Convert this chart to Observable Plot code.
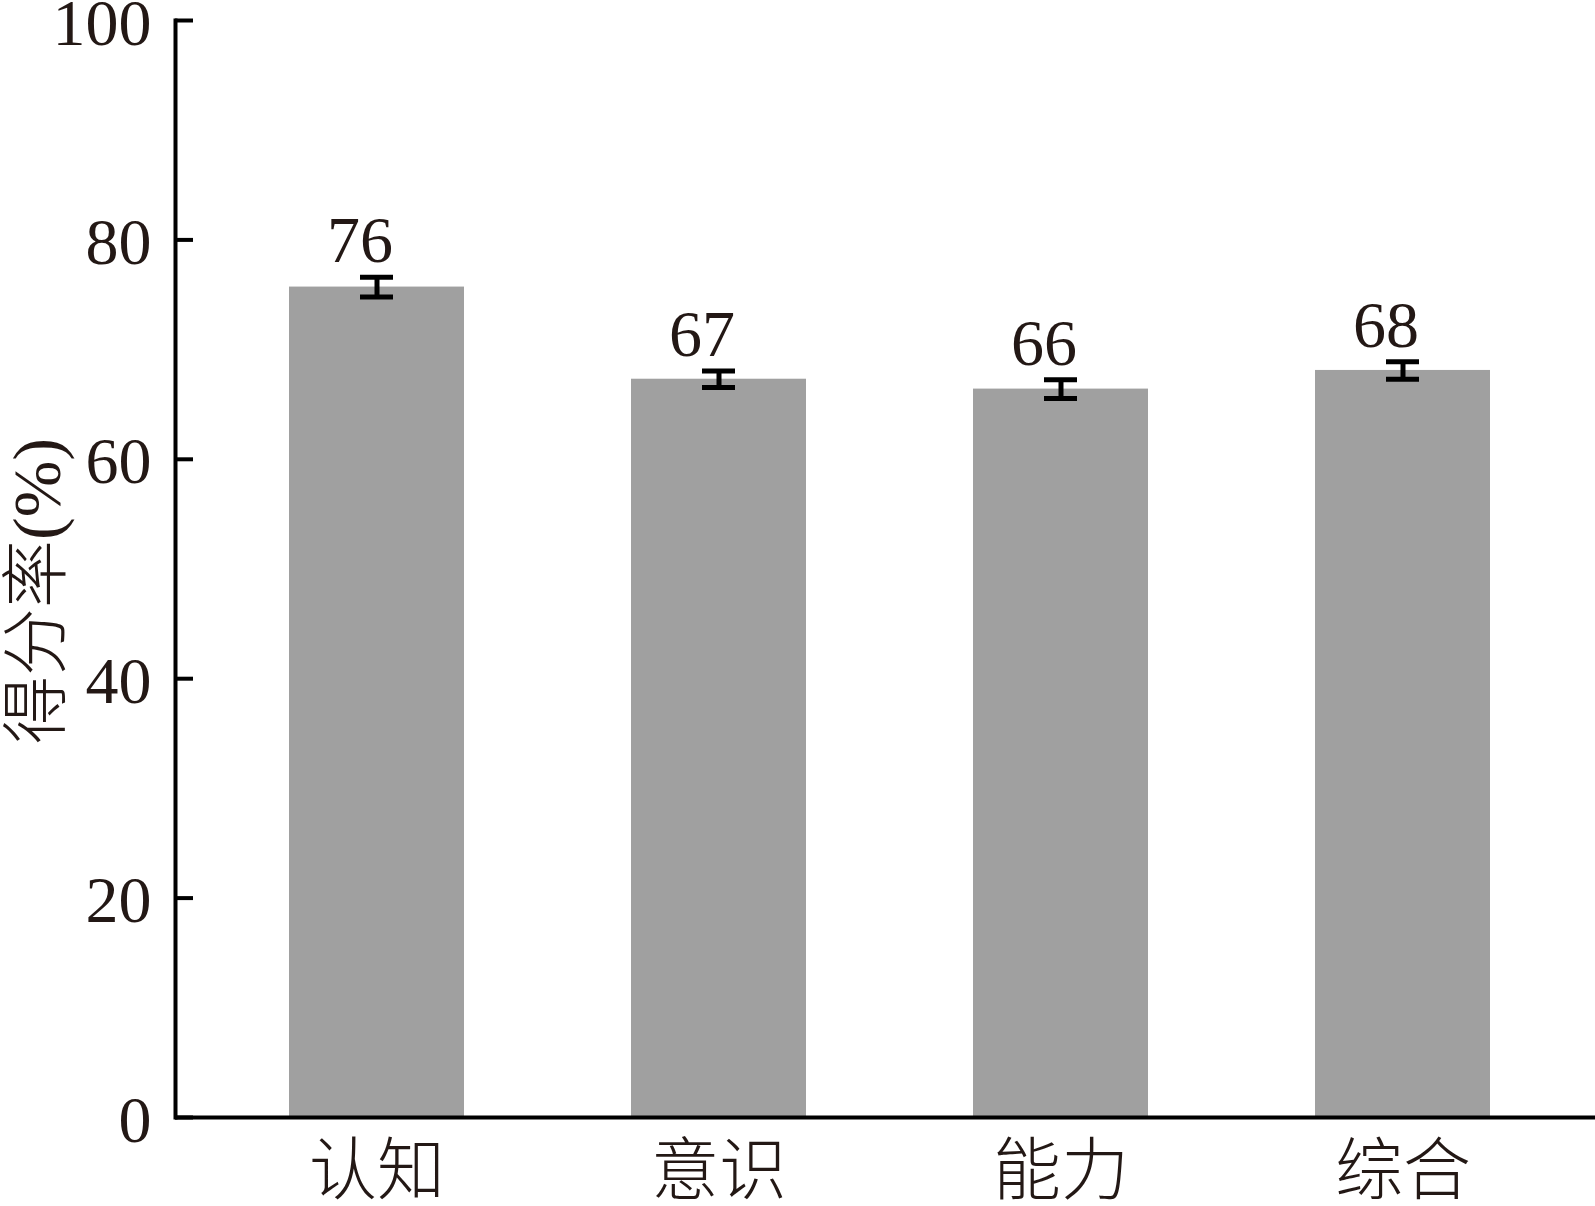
<!DOCTYPE html>
<html>
<head>
<meta charset="utf-8">
<script src="https://cdn.jsdelivr.net/npm/d3@7"></script>
<script src="https://cdn.jsdelivr.net/npm/@observablehq/plot@0.6"></script>
<style>
  html, body { margin: 0; padding: 0; background: #fff; }
  svg { overflow: visible; display: block; }
</style>
</head>
<body>
<div id="chart"></div>
<script>
const categories = ["认知", "意识", "能力", "综合"];
const values = [75.7, 67.3, 66.4, 68.1];
const errors = [0.9, 0.75, 0.85, 0.8];
const valueLabels = ["76", "67", "66", "68"];
const yTicks = [0, 20, 40, 60, 80, 100];
const yTitle = "得分率(%)";

const data = categories.map((c, i) => ({
  cat: c, v: values[i], lo: values[i] - errors[i], hi: values[i] + errors[i], label: valueLabels[i]
}));

const serif = "'Liberation Serif', 'Times New Roman', 'Noto Sans CJK SC', serif";
const cjk = "'Noto Sans CJK SC', sans-serif";
const ink = "#231815";

const W = 1595, ML = 175, TICK = 18;

const chart = Plot.plot({
  width: W,
  height: 1206,
  marginLeft: ML,
  marginRight: 0,
  marginTop: 20,
  marginBottom: 89,
  style: { fontFamily: serif, background: "#fff", color: ink },
  x: { domain: categories, range: [ML, 1603], paddingInner: 0.489, paddingOuter: 0.33, label: null },
  y: { domain: [0, 100], label: null },
  marks: [
    Plot.barY(data, { x: "cat", y: "v", fill: "#a0a0a0" }),
    Plot.ruleX(data, { x: "cat", y1: "lo", y2: "hi", stroke: "#000", strokeWidth: 5 }),
    Plot.tickY(data, { x: "cat", y: "lo", stroke: "#000", strokeWidth: 5, insetLeft: 71, insetRight: 71 }),
    Plot.tickY(data, { x: "cat", y: "hi", stroke: "#000", strokeWidth: 5, insetLeft: 71, insetRight: 71 }),
    Plot.text(data, { x: "cat", y: "hi", text: "label", lineAnchor: "bottom", dy: -15, dx: -17, fontSize: 66, fontFamily: serif, fill: ink }),
    Plot.ruleY(yTicks, { y: d => d, stroke: "#000", strokeWidth: 4, insetRight: (W - ML) - TICK }),
    Plot.axisY({ ticks: yTicks, tickSize: 0, tickPadding: 24, fontSize: 66, fontFamily: serif, fill: ink, dy: 3, label: null }),
    Plot.axisX({ tickSize: 0, tickPadding: 28, fontSize: 68, fontWeight: 300, fontFamily: cjk, fill: ink, label: null }),
    Plot.frame({ anchor: "left", stroke: "#000", strokeWidth: 4 }),
    Plot.ruleY([0], { stroke: "#000", strokeWidth: 4 }),
    Plot.text([yTitle], { frameAnchor: "left", textAnchor: "middle", rotate: -90, dx: -137, dy: 22, fontSize: 68, fontWeight: 300, fontFamily: serif, fill: ink })
  ]
});
document.getElementById("chart").appendChild(chart);
</script>
</body>
</html>
